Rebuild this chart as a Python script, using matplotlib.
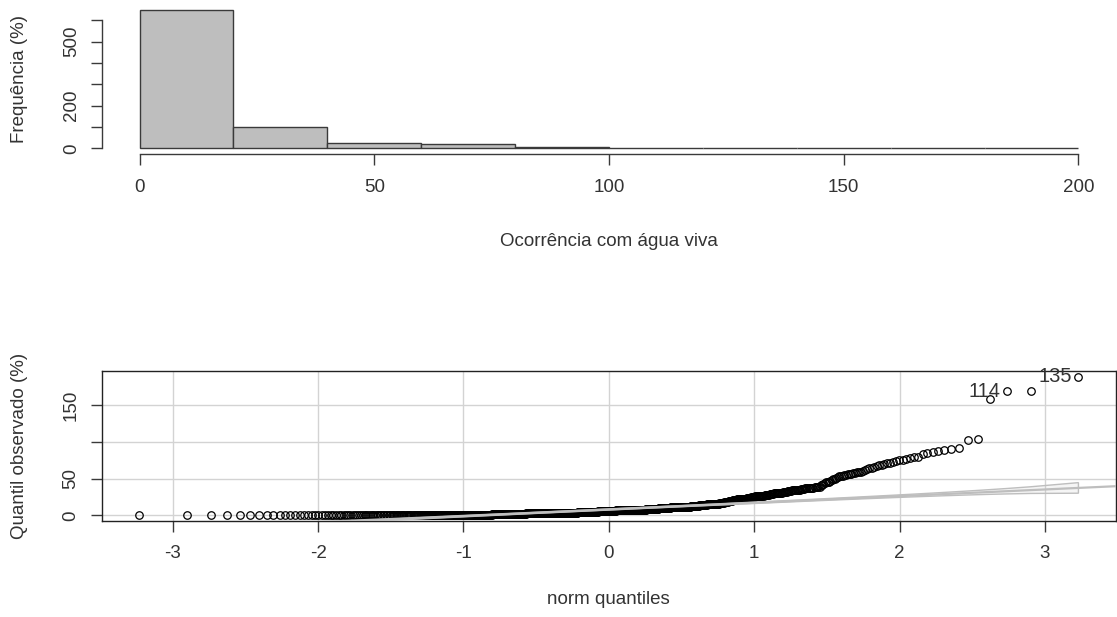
import numpy as np
import matplotlib
matplotlib.use("Agg")
import matplotlib.pyplot as plt
from statistics import NormalDist

plt.rcParams['font.family'] = ['Liberation Sans', 'DejaVu Sans']

# ---------------- data ----------------
# frequency table of the low values (0..39)
occ_levels = [0, 1, 2, 3, 4, 5, 6, 7, 8, 9, 10, 11, 12, 13, 14, 15, 16, 17, 18, 19,
              21, 22, 23, 24, 25, 26, 27, 28, 29, 30, 31, 32, 33, 34, 35, 36, 37, 38, 39]
occ_counts = [110, 60, 60, 55, 50, 45, 40, 35, 30, 27, 25, 21, 18, 16, 14, 11, 10, 8, 7, 6,
              7, 7, 7, 6, 6, 6, 6, 6, 5, 5, 5, 5, 5, 4, 4, 4, 4, 4, 5]
# upper tail, individual observations
occ_tail = [41, 42, 43, 44, 45, 45, 46, 47, 48, 49, 50, 51, 52, 53, 53, 54, 55, 55, 56, 57,
            57, 58, 58, 59, 59, 59,
            61, 62, 63, 64, 65, 66, 67, 68, 69, 70, 71, 72, 73, 74, 75, 76, 77, 78, 79, 79,
            83, 85, 87, 88, 89, 90, 92,
            102, 104,
            159, 169, 169, 189]

hist_edges = [0, 20, 40, 60, 80, 100, 120, 140, 160, 180, 200]
hist_xticks = [0, 50, 100, 150, 200]
hist_yticks = [0, 100, 200, 300, 400, 500, 600]
hist_yticklabels = ["0", "", "200", "", "", "500", ""]

qq_xticks = [-3, -2, -1, 0, 1, 2, 3]
qq_yticks = [0, 50, 100, 150]
qq_yticklabels = ["0", "50", "", "150"]
id_labels = ["114", "135"]
id_ranks = [806, 808]          # ranks (1-based) in the sorted sample

hist_xlabel = "Ocorrência com água viva"
hist_ylabel = "Frequência (%)"
qq_xlabel = "norm quantiles"
qq_ylabel = "Quantil observado (%)"

# ---------------- figure ----------------
W, H = 1117, 617
fig = plt.figure(figsize=(W / 100, H / 100), dpi=100)

def box(x0, y0, x1, y1):
    return [x0 / W, 1 - y1 / H, (x1 - x0) / W, (y1 - y0) / H]

TXT = '#333333'
AXC = '#3a3a3a'
FS = 13.5

sample = np.concatenate([np.repeat(occ_levels, occ_counts), occ_tail]).astype(float)

# ---------------- histogram ----------------
ax1 = fig.add_axes(box(102, 4.5, 1116, 153.8))
counts, _, _ = ax1.hist(sample, bins=hist_edges, color='#BEBEBE', edgecolor='#3a3a3a',
                        linewidth=1.0)
xr = hist_edges[-1] - hist_edges[0]
ax1.set_xlim(hist_edges[0] - 0.04 * xr, hist_edges[-1] + 0.04 * xr)
cmax = counts.max()
ax1.set_ylim(-0.04 * cmax, 1.04 * cmax)
for s in ['top', 'right']:
    ax1.spines[s].set_visible(False)
ax1.spines['left'].set_bounds(hist_yticks[0], hist_yticks[-1])
ax1.spines['bottom'].set_bounds(hist_xticks[0], hist_xticks[-1])
for s in ['left', 'bottom']:
    ax1.spines[s].set_color(AXC)
    ax1.spines[s].set_linewidth(1.0)
ax1.set_xticks(hist_xticks)
ax1.set_xticklabels([str(t) for t in hist_xticks])
ax1.set_yticks(hist_yticks)
ax1.set_yticklabels(hist_yticklabels)
ax1.tick_params(axis='both', length=8, width=1.0, color=AXC, labelcolor=TXT, labelsize=FS)
ax1.tick_params(axis='x', pad=10)
ax1.tick_params(axis='y', pad=8, labelrotation=90)
for lab in ax1.get_yticklabels():
    lab.set_va('center')
ax1.set_xlabel(hist_xlabel, fontsize=FS, color=TXT)
ax1.set_ylabel(hist_ylabel, fontsize=FS, color=TXT)
ax1.xaxis.label.set_va('center')
ax1.yaxis.label.set_va('center')
ax1.xaxis.set_label_coords(0.5, (153.8 - 242) / (153.8 - 4.5))
ax1.yaxis.set_label_coords((20 - 102) / (1116 - 102), 0.5)

# ---------------- QQ plot ----------------
ax2 = fig.add_axes(box(101.7, 371, 1116, 521))
nd = NormalDist()
ordered = np.sort(sample)
n = len(ordered)
P = (np.arange(1, n + 1) - 0.5) / n
z = np.array([nd.inv_cdf(p) for p in P])

Qx = np.quantile(ordered, [0.25, 0.75])
Qz = np.array([nd.inv_cdf(0.25), nd.inv_cdf(0.75)])
b = (Qx[1] - Qx[0]) / (Qz[1] - Qz[0])
a = Qx[0] - b * Qz[0]
dens = np.array([nd.pdf(v) for v in z])
SE = (b / dens) * np.sqrt(P * (1 - P) / n)
fit = a + b * z
zz = nd.inv_cdf(0.975)
upper = fit + zz * SE
lower = fit - zz * SE

zr = z.max() - z.min()
ax2.set_xlim(z.min() - 0.04 * zr, z.max() + 0.04 * zr)
yr = ordered.max() - ordered.min()
ax2.set_ylim(ordered.min() - 0.04 * yr, ordered.max() + 0.04 * yr)

ax2.set_xticks(qq_xticks)
ax2.set_yticks(qq_yticks)
ax2.set_yticklabels(qq_yticklabels)
ax2.set_xticklabels([str(t) for t in qq_xticks])
ax2.grid(True, color='#D3D3D3', linewidth=1.0, zorder=0)
ax2.set_axisbelow(True)

ax2.plot(z, ordered, 'o', mfc='none', mec='black', ms=5.4, mew=0.9, zorder=2)
ax2.axline((0, a), slope=b, color='#BEBEBE', linewidth=1.6, zorder=3)
ax2.fill(np.concatenate([z, z[::-1]]), np.concatenate([upper, lower[::-1]]),
         facecolor=(0.745, 0.745, 0.745, 0.15), edgecolor='#BEBEBE', linewidth=1.0, zorder=3)

for lab, r in zip(id_labels, id_ranks):
    ax2.annotate(lab, xy=(z[r - 1], ordered[r - 1]), xytext=(-4.5, 0), textcoords='offset points',
                 ha='right', va='center', fontsize=14.5, color=TXT, zorder=4,
                 annotation_clip=False)

for s in ax2.spines.values():
    s.set_color('#222222')
    s.set_linewidth(1.0)
ax2.tick_params(axis='both', length=8, width=1.0, color=AXC, labelcolor=TXT, labelsize=FS)
ax2.tick_params(axis='x', pad=9)
ax2.tick_params(axis='y', pad=8, labelrotation=90)
for lab in ax2.get_yticklabels():
    lab.set_va('center')
ax2.set_xlabel(qq_xlabel, fontsize=FS, color=TXT)
ax2.set_ylabel(qq_ylabel, fontsize=FS, color=TXT)
ax2.xaxis.label.set_va('center')
ax2.yaxis.label.set_va('center')
ax2.xaxis.set_label_coords(0.5, (521 - 599) / (521 - 371))
ax2.yaxis.set_label_coords((20 - 101.7) / (1116 - 101.7), 0.5)

fig.savefig('out.png', dpi=100)
